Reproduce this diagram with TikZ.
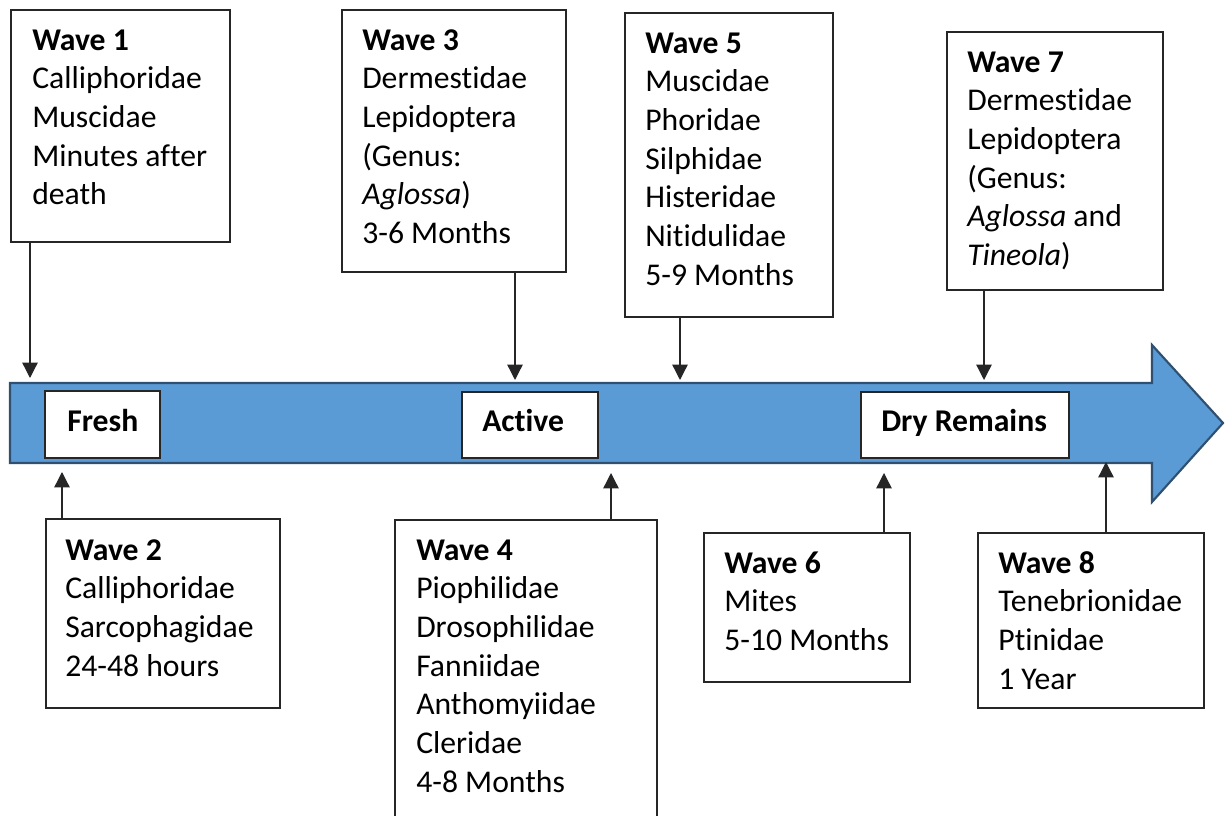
\documentclass[tikz,border=0pt]{standalone}
\usepackage{fontspec}
\setmainfont{Carlito}[RawFeature={-liga;-clig;-dlig;-calt;-rlig}]
\usetikzlibrary{arrows.meta,fit}
\definecolor{arrowfill}{HTML}{5B9BD5}
\definecolor{arrowline}{HTML}{2F5070}
\begin{document}
\begin{tikzpicture}[x=0.75pt,y=-0.75pt,
  wbox/.style={draw=black!85, line width=1pt, fill=white, inner sep=0pt},
  sbox/.style={draw=black!85, line width=1.1pt, fill=white, inner sep=0pt},
  wtext/.style={anchor=north west, inner sep=0pt, align=left, font=\fontsize{23.75pt}{29pt}\selectfont},
  stext/.style={anchor=base west, inner sep=0pt, font=\fontsize{23.75pt}{29pt}\selectfont\bfseries},
  conn/.style={draw=black!85, line width=1pt, -{Triangle[width=11.5pt,length=11.5pt]}}]
\useasboundingbox (0,0) rectangle (1225,816);
\clip (0,0) rectangle (1225,816);
\fill[white] (0,0) rectangle (1225,816);

% main timeline arrow
\draw[fill=arrowfill, draw=arrowline, line width=1.6pt, line join=miter]
  (10,383) -- (1152,383) -- (1152,345) -- (1223,423) -- (1152,502) -- (1152,463) -- (10,463) -- cycle;

% stage boxes
\node[sbox, fit={(45,391) (160,458)}] (fresh) {};
\node[stext] (freshT) at (67,432) {Fresh};
\node[sbox, fit={(462,392) (598,458)}] (active) {};
\node[stext] (activeT) at (482,432) {Active};
\node[sbox, fit={(861,392) (1069,458)}] (dry) {};
\node[stext] (dryT) at (881,432) {Dry Remains};

% wave boxes
\node[wbox, fit={(11,10) (230,242)}] (b1) {};
\node[wtext] (t1) at (32,22.9) {\strut\textbf{Wave 1}\\Calliphoridae\\Muscidae\\Minutes after\\death};

\node[wbox, fit={(342,10) (566,272)}] (b3) {};
\node[wtext] (t3) at (362,22.9) {\strut\textbf{Wave 3}\\Dermestidae\\Lepidoptera\\(Genus:\\\textit{Aglossa})\\3-6 Months};

\node[wbox, fit={(625,13) (833,317)}] (b5) {};
\node[wtext] (t5) at (645,25.9) {\strut\textbf{Wave 5}\\Muscidae\\Phoridae\\Silphidae\\Histeridae\\Nitidulidae\\5-9 Months};

\node[wbox, fit={(947,32) (1163,290)}] (b7) {};
\node[wtext] (t7) at (967,44.9) {\strut\textbf{Wave 7}\\Dermestidae\\Lepidoptera\\(Genus:\\\textit{Aglossa} and\\\textit{Tineola})};

\node[wbox, fit={(46,519) (280,708)}] (b2) {};
\node[wtext] (t2) at (65,532.9) {\strut\textbf{Wave 2}\\Calliphoridae\\Sarcophagidae\\24-48 hours};

\node[wbox, fit={(395,520) (657,840)}] (b4) {};
\node[wtext] (t4) at (416,532.9) {\strut\textbf{Wave 4}\\Piophilidae\\Drosophilidae\\Fanniidae\\Anthomyiidae\\Cleridae\\4-8 Months};

\node[wbox, fit={(704,533) (910,682)}] (b6) {};
\node[wtext] (t6) at (724,545.9) {\strut\textbf{Wave 6}\\Mites\\5-10 Months};

\node[wbox, fit={(978,533) (1204,708)}] (b8) {};
\node[wtext] (t8) at (998,545.9) {\strut\textbf{Wave 8}\\Tenebrionidae\\Ptinidae\\1 Year};

% connector end points on the timeline
\coordinate (e1) at (30,378);
\coordinate (e3) at (515,380);
\coordinate (e5) at (680,380);
\coordinate (e7) at (984,380);
\coordinate (e2) at (62,472);
\coordinate (e4) at (611,473);
\coordinate (e6) at (884,473);
\coordinate (e8) at (1106,462);

\draw[conn] (b1.south -| e1) -- (e1);
\draw[conn] (b3.south -| e3) -- (e3);
\draw[conn] (b5.south -| e5) -- (e5);
\draw[conn] (b7.south -| e7) -- (e7);
\draw[conn] (b2.north -| e2) -- (e2);
\draw[conn] (b4.north -| e4) -- (e4);
\draw[conn] (b6.north -| e6) -- (e6);
\draw[conn] (b8.north -| e8) -- (e8);
\end{tikzpicture}
\end{document}
